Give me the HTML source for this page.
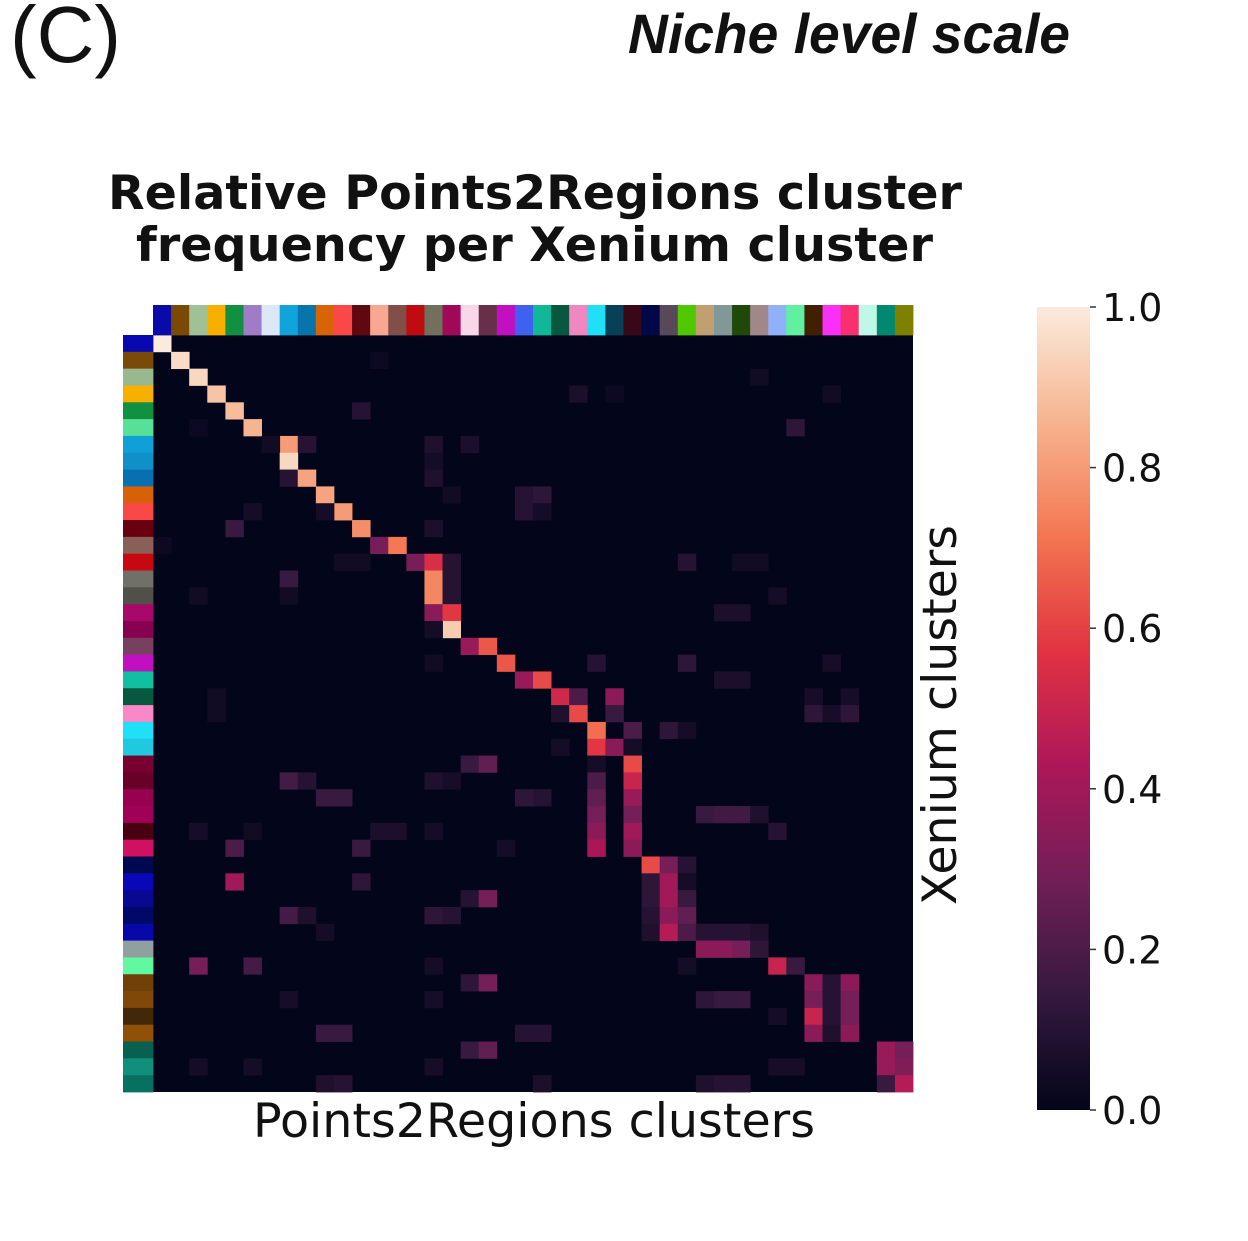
<!DOCTYPE html>
<html>
<head>
<meta charset="utf-8">
<style>
  html, body { margin:0; padding:0; background:#ffffff; }
  body { width:1248px; height:1241px; overflow:hidden; }
  svg { display:block; }
  .dj { font-family: "DejaVu Sans", "Liberation Sans", sans-serif; }
</style>
</head>
<body>
<svg id="chart" width="1248" height="1241" viewBox="0 0 1248 1241" xmlns="http://www.w3.org/2000/svg">
  <defs>
    <linearGradient id="rocket" x1="0" y1="1" x2="0" y2="0">
      <stop offset="0" stop-color="#03051a"/>
      <stop offset="0.142857" stop-color="#35193e"/>
      <stop offset="0.285714" stop-color="#701f57"/>
      <stop offset="0.428571" stop-color="#ad1759"/>
      <stop offset="0.571429" stop-color="#e13342"/>
      <stop offset="0.714286" stop-color="#f37651"/>
      <stop offset="0.857143" stop-color="#f6b48f"/>
      <stop offset="1" stop-color="#faebdd"/>
    </linearGradient>
  </defs>

  <!-- Panel label and header -->
  <text x="10" y="62" font-family="Liberation Sans, Arial, sans-serif" font-size="80" fill="#111">(C)</text>
  <text x="628" y="53" font-family="Liberation Sans, Arial, sans-serif" font-size="56" font-weight="bold" font-style="italic" fill="#111" textLength="442" lengthAdjust="spacingAndGlyphs">Niche level scale</text>

  <!-- Title -->
  <text class="dj" x="108" y="209" font-size="47" font-weight="bold" fill="#111" textLength="854" lengthAdjust="spacingAndGlyphs">Relative Points2Regions cluster</text>
  <text class="dj" x="136" y="261" font-size="47" font-weight="bold" fill="#111" textLength="797" lengthAdjust="spacingAndGlyphs">frequency per Xenium cluster</text>

  <!-- Heatmap background -->
  <rect x="153" y="335" width="760" height="757" fill="#03051a"/>
  <g id="cells"></g>
  <g id="colcolors"></g>
  <g id="rowcolors"></g>

  <!-- Axis labels -->
  <text class="dj" x="253" y="1137" font-size="47" fill="#111" textLength="562" lengthAdjust="spacingAndGlyphs">Points2Regions clusters</text>
  <text class="dj" transform="translate(956,715) rotate(-90)" text-anchor="middle" font-size="47" fill="#111" textLength="380" lengthAdjust="spacingAndGlyphs">Xenium clusters</text>

  <!-- Colorbar -->
  <rect x="1037" y="307" width="53" height="803" fill="url(#rocket)"/>
  <g stroke="#333" stroke-width="1.5">
    <line x1="1090" y1="307" x2="1096" y2="307"/>
    <line x1="1090" y1="467.6" x2="1096" y2="467.6"/>
    <line x1="1090" y1="628.2" x2="1096" y2="628.2"/>
    <line x1="1090" y1="788.8" x2="1096" y2="788.8"/>
    <line x1="1090" y1="949.4" x2="1096" y2="949.4"/>
    <line x1="1090" y1="1110" x2="1096" y2="1110"/>
  </g>
  <g class="dj" font-size="38" fill="#111">
    <text x="1102" y="321">1.0</text>
    <text x="1102" y="481.6">0.8</text>
    <text x="1102" y="642.2">0.6</text>
    <text x="1102" y="802.8">0.4</text>
    <text x="1102" y="963.4">0.2</text>
    <text x="1102" y="1124">0.0</text>
  </g>
</svg>

<script>
(function(){
  var NS = "http://www.w3.org/2000/svg";
  var X0 = 153, Y0 = 335, CW = 760/42, RH = 757/45;
  var stops = [
    [0,[3,5,26]],[1/7,[53,25,62]],[2/7,[112,31,87]],[3/7,[173,23,89]],
    [4/7,[225,51,66]],[5/7,[243,118,81]],[6/7,[246,180,143]],[1,[250,235,221]]
  ];
  function rocket(v){
    if (v<=0) return "rgb(3,5,26)";
    if (v>=1) return "rgb(250,235,221)";
    for (var i=0;i<stops.length-1;i++){
      var a=stops[i], b=stops[i+1];
      if (v>=a[0] && v<=b[0]){
        var t=(v-a[0])/(b[0]-a[0]);
        var c=[0,1,2].map(function(k){return Math.round(a[1][k]+(b[1][k]-a[1][k])*t);});
        return "rgb("+c[0]+","+c[1]+","+c[2]+")";
      }
    }
    return "rgb(3,5,26)";
  }
  function rect(g,x,y,w,h,fill){
    var r=document.createElementNS(NS,"rect");
    r.setAttribute("x",x.toFixed(2)); r.setAttribute("y",y.toFixed(2));
    r.setAttribute("width",(w+0.4).toFixed(2)); r.setAttribute("height",(h+0.4).toFixed(2));
    r.setAttribute("fill",fill);
    g.appendChild(r);
  }
  // sparse values: [row, col, value]
  var d = [
    [0,0,1.0],[1,1,0.96],[2,2,0.95],[3,3,0.9],[4,4,0.88],[5,5,0.86],
    [1,12,0.03],[3,23,0.07],[3,25,0.03],[3,37,0.04],[2,33,0.04],[4,11,0.1],[5,2,0.03],[5,35,0.12],
    [6,7,0.8],[6,8,0.1],[6,6,0.04],[6,15,0.08],[6,17,0.07],
    [7,7,0.95],[7,15,0.05],
    [8,7,0.1],[8,8,0.82],[8,15,0.08],
    [9,9,0.82],[9,16,0.04],[9,20,0.1],[9,21,0.12],
    [10,10,0.8],[10,5,0.05],[10,9,0.05],[10,20,0.1],[10,21,0.05],
    [11,11,0.77],[11,4,0.15],[11,15,0.07],
    [12,12,0.3],[12,13,0.72],[12,0,0.03],
    [13,14,0.3],[13,15,0.55],[13,16,0.1],[13,10,0.04],[13,11,0.04],[13,29,0.1],[13,32,0.04],[13,33,0.04],
    [14,7,0.15],[14,15,0.75],[14,16,0.1],
    [15,15,0.75],[15,16,0.1],[15,2,0.04],[15,7,0.04],[15,34,0.05],
    [16,15,0.35],[16,16,0.58],[16,31,0.07],[16,32,0.07],
    [17,16,0.92],[17,15,0.05],
    [18,17,0.38],[18,18,0.65],
    [19,19,0.65],[19,24,0.1],[19,29,0.12],[19,37,0.06],[19,15,0.04],
    [20,20,0.38],[20,21,0.62],[20,31,0.07],[20,32,0.07],
    [21,22,0.52],[21,23,0.2],[21,25,0.35],[21,3,0.04],[21,36,0.06],[21,38,0.06],
    [22,22,0.08],[22,23,0.62],[22,25,0.15],[22,36,0.12],[22,37,0.06],[22,38,0.12],[22,3,0.04],
    [23,24,0.7],[23,26,0.2],[23,28,0.12],[23,29,0.05],
    [24,24,0.58],[24,25,0.35],[24,22,0.05],[24,26,0.05],
    [25,26,0.62],[25,24,0.05],[25,17,0.15],[25,18,0.25],
    [26,24,0.2],[26,26,0.5],[26,7,0.18],[26,8,0.1],[26,15,0.08],[26,16,0.06],
    [27,24,0.25],[27,26,0.38],[27,21,0.1],[27,9,0.15],[27,10,0.15],[27,20,0.12],
    [28,24,0.3],[28,26,0.3],[28,30,0.15],[28,31,0.17],[28,32,0.17],[28,33,0.08],
    [29,24,0.35],[29,26,0.4],[29,34,0.1],[29,2,0.06],[29,5,0.04],[29,12,0.07],[29,13,0.07],[29,15,0.05],
    [30,24,0.42],[30,26,0.35],[30,4,0.2],[30,11,0.15],[30,19,0.05],
    [31,27,0.62],[31,28,0.3],[31,29,0.1],
    [32,27,0.12],[32,28,0.4],[32,29,0.05],[32,4,0.4],[32,11,0.12],
    [33,27,0.12],[33,28,0.4],[33,29,0.15],[33,17,0.1],[33,18,0.3],
    [34,27,0.1],[34,28,0.35],[34,29,0.25],[34,7,0.18],[34,8,0.08],[34,15,0.12],[34,16,0.1],
    [35,27,0.08],[35,28,0.45],[35,29,0.2],[35,30,0.1],[35,31,0.1],[35,32,0.1],[35,33,0.08],[35,9,0.05],
    [36,30,0.35],[36,31,0.35],[36,32,0.3],[36,33,0.12],
    [37,34,0.5],[37,35,0.15],[37,29,0.05],[37,2,0.3],[37,5,0.18],[37,15,0.05],
    [38,36,0.35],[38,37,0.1],[38,38,0.35],[38,17,0.12],[38,18,0.3],
    [39,36,0.3],[39,37,0.1],[39,38,0.3],[39,30,0.12],[39,31,0.15],[39,32,0.15],[39,7,0.06],[39,15,0.06],
    [40,36,0.5],[40,37,0.1],[40,38,0.3],[40,34,0.05],
    [41,36,0.35],[41,37,0.08],[41,38,0.35],[41,21,0.1],[41,9,0.15],[41,10,0.15],[41,20,0.1],
    [42,40,0.38],[42,41,0.3],[42,17,0.15],[42,18,0.25],
    [43,40,0.38],[43,41,0.32],[43,34,0.06],[43,35,0.06],[43,2,0.05],[43,5,0.05],[43,15,0.06],
    [44,40,0.15],[44,41,0.45],[44,30,0.08],[44,31,0.1],[44,32,0.1],[44,21,0.07],[44,9,0.08],[44,10,0.1]
  ];
  var gc = document.getElementById("cells");
  d.forEach(function(e){
    rect(gc, X0+e[1]*CW, Y0+e[0]*RH, CW, RH, rocket(e[2]));
  });
  var colC = ["#0a0aa8","#7a4a04","#a0c096","#f8b000","#109040","#a07cc8","#dce8f8","#10a4dc","#0874ac","#d86408",
              "#f84848","#600810","#f8a890","#805048","#c00c10","#70705c","#a00858","#f8d8e8","#683048","#c010c0",
              "#4060f0","#10b898","#085840","#f088c0","#20e0f8","#084058","#380818","#000848","#584858","#50c800",
              "#c0a070","#809898","#204808","#a08888","#90b0f8","#60f0a0","#402000","#f830f8","#f83070","#c0f8e8",
              "#008870","#808000"];
  var g1 = document.getElementById("colcolors");
  colC.forEach(function(c,i){ rect(g1, X0+i*CW, 305, CW, 30, c); });
  var rowC = ["#0808b0","#7a4a08","#98b890","#f8b000","#109040","#58e098","#10a0d8","#1090c8","#0870b0","#d86008",
              "#f84848","#680010","#886058","#c80810","#707068","#505048","#a8086a","#880050","#784060","#c010c0",
              "#10c0a0","#085840","#f888c8","#20e0f8","#20c8e0","#780030","#680028","#980050","#a00058","#480010",
              "#d01060","#000850","#0808b8","#080890","#000868","#0808a8","#90a0a0","#60f8a0","#704008","#804808",
              "#402808","#905008","#086050","#10907c","#087060"];
  var g2 = document.getElementById("rowcolors");
  rowC.forEach(function(c,i){ rect(g2, 123, Y0+i*RH, 30, RH, c); });
})();
</script>
</body>
</html>
